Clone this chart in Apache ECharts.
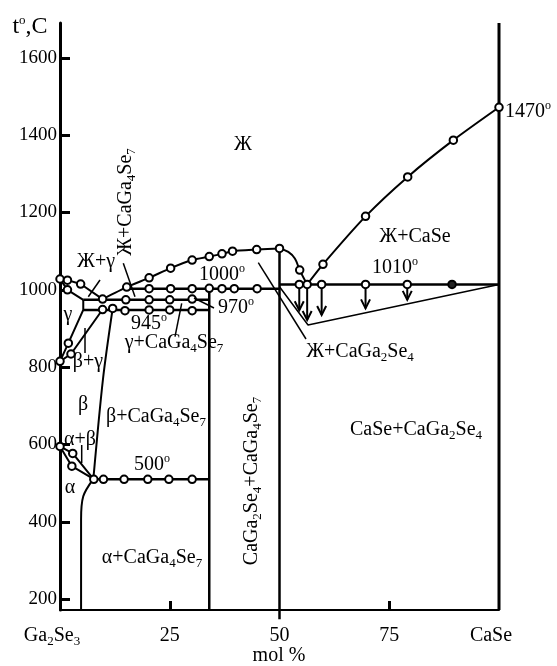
<!DOCTYPE html>
<html><head><meta charset="utf-8">
<script src="https://cdn.jsdelivr.net/npm/echarts@6/dist/echarts.min.js"></script>
<style>html,body{margin:0;padding:0;background:#fff}#c{width:557px;height:666px}</style>
</head><body><div id="c"></div>
<script>
// ---- axis ticks ----
const xTicks = [0, 25, 50, 75, 100];
const xTickLabels = ['Ga2Se3', '25', '50', '75', 'CaSe'];
const yTicks = [200, 400, 600, 800, 1000, 1200, 1400, 1600];

// ---- phase boundary curves (mol % CaSe, °C) ----
const liqCaSe = [[56.3,1014],[59.9,1066],[69.6,1190],[79.2,1292],[89.6,1387],[100,1472]];
const liqCaGa2Se4 = [[50,1107],[52,1098],[53.5,1081],[54.6,1051],[56.3,1014]];
const liqCaGa4Se7 = [[9.7,976],[15.2,1007],[20.3,1031],[25.2,1056],[30.1,1077],[34,1086],[36.9,1093],[39.3,1100],[44.8,1104],[50,1107]];
const liqGamma = [[0,1028],[1.7,1025],[4.7,1015],[9.7,976]];
const solGamma = [[0,1028],[1.7,1000],[5.3,974]];
const solvGamma = [[5.3,974],[5.3,948],[1.9,862],[0,815]];
const betaGamma = [[0,815],[2.5,834],[9.7,949]];
const betaCmp = [[12,952],[9.8,770],[7.6,511]];
const alphaSolv = [[7.6,511],[5.3,466],[4.8,406],[4.8,172]];
const abUpper = [[0,595],[2.9,577],[7.6,511]];
const abLower = [[0,595],[2.7,544],[7.6,511]];
const iso1010 = [[50,1014],[100,1014]];
const iso1000 = [[15.2,1003],[50,1003]];
const iso970 = [[5.3,974],[34,974]];
const iso945 = [[5.3,948],[34,948]];
const iso500 = [[7.6,510],[34,510]];
const lineCaGa4Se7 = [[34,1003],[34,172]];
const lineCaGa2Se4 = [[50,1107],[50,148]];
const lineCaSe = [[100,172],[100,1690]];
const tammann = [[50,1008],[56.5,909],[100,1014]];

// ---- experimental points ----
const ptsLiquidus = [[59.9,1066],[69.6,1190],[79.2,1292],[89.6,1387],[100,1472],[54.6,1051],[50,1107],
  [15.2,1007],[20.3,1031],[25.2,1056],[30.1,1077],[34,1086],[36.9,1093],[39.3,1100],[44.8,1104]];
const ptsGamma = [[0,1028],[1.7,1025],[4.7,1015],[9.7,976],[1.7,1000],[1.9,862],[2.5,834],[0,815]];
const pts1000 = [[20.3,1003],[25.2,1003],[30.1,1003],[34,1004],[36.9,1003],[39.7,1003],[44.9,1003]];
const pts970 = [[15,974],[20.3,974],[25,974],[30.1,976]];
const pts945 = [[9.7,949],[12,952],[14.8,946],[20.3,948],[25,948],[30.1,946]];
const ptsAB = [[0,595],[2.9,577],[2.7,544]];
const pts500 = [[7.7,510],[9.9,510],[14.6,510],[20,510],[24.8,510],[30.1,510]];
const pts1010 = [[54.5,1014],[56.3,1014],[59.6,1014],[69.6,1014],[79.1,1014]];
const ptsSpecial = [[89.3,1014]];
// thermal arrows: composition, start T, tip T
const arrowX = [54.5, 56.3, 59.6, 69.6, 79.1];
const arrowTip = [947, 922, 935, 952, 974];
const arrowTop = 1014;

const FONT = '"Liberation Serif", "Times New Roman", serif';
const RICH = {
  m: {fontSize: 20, fontFamily: FONT, color: '#000', lineHeight: 24},
  s: {fontSize: 13, fontFamily: FONT, color: '#000', lineHeight: 13, verticalAlign: 'bottom'},
  o: {fontSize: 12, fontFamily: FONT, color: '#000', lineHeight: 12, verticalAlign: 'top'},
  p: {width: 16},
  T: {fontSize: 24, fontFamily: FONT, color: '#000', lineHeight: 26},
  O: {fontSize: 13, fontFamily: FONT, color: '#000', lineHeight: 13, verticalAlign: 'top'}
};

function lineSeries(data, width, extra) {
  return Object.assign({type: 'line', data: data, showSymbol: false, symbol: 'none', silent: true,
    lineStyle: {color: '#000', width: width}, animation: false, z: 3}, extra || {});
}
function pointSeries(data, fill) {
  return {type: 'scatter', data: data, symbol: 'circle', symbolSize: 7.5, silent: true, animation: false, z: 5,
    itemStyle: {color: fill || '#fff', borderColor: '#000', borderWidth: 2, opacity: 1}};
}
function txt(x, y, s, rot) {
  return {type: 'text', x: x, y: y, rotation: rot || 0, silent: true, z: 10,
    style: {text: s, rich: RICH, align: 'center', verticalAlign: 'middle', fill: '#000', font: '20px ' + FONT}};
}
function ldr(x1, y1, x2, y2) {
  return {type: 'line', silent: true, z: 10, shape: {x1: x1, y1: y1, x2: x2, y2: y2}, style: {stroke: '#000', lineWidth: 1.5}};
}

const chart = echarts.init(document.getElementById('c'), null, {renderer: 'canvas'});
const option = {
  backgroundColor: '#fff',
  animation: false,
  grid: {left: 60, right: 58, top: 23, bottom: 56, containLabel: false},
  xAxis: {
    type: 'value', min: 0, max: 100, interval: 25,
    axisLine: {show: true, onZero: false, lineStyle: {color: '#000', width: 2}},
    axisTick: {show: true, inside: true, length: 9, lineStyle: {color: '#000', width: 3}, customValues: [25, 75]},
    splitLine: {show: false},
    axisLabel: {
      customValues: xTicks, margin: 14, color: '#000', fontFamily: FONT, fontSize: 20,
      formatter: function (v) {
        const i = xTicks.indexOf(v);
        const t = xTickLabels[i];
        if (t === 'Ga2Se3') return '{m|Ga}{s|2}{m|Se}{s|3}{p|}';
        if (t === 'CaSe') return '{m|CaSe}{p|}';
        return '{m|' + t + '}';
      },
      rich: RICH
    }
  },
  yAxis: {
    type: 'value', min: 172, max: 1690,
    axisLine: {show: true, onZero: false, lineStyle: {color: '#000', width: 3}},
    axisTick: {show: true, inside: true, length: 10, lineStyle: {color: '#000', width: 3}, customValues: yTicks},
    splitLine: {show: false},
    axisLabel: {customValues: yTicks, margin: 3, color: '#000', fontFamily: FONT, fontSize: 19,
      formatter: function (v) { return String(v); }}
  },
  series: [
    lineSeries(liqCaSe, 2, {smooth: 0.25}),
    lineSeries(liqCaGa2Se4, 2, {smooth: 0.4}),
    lineSeries(liqCaGa4Se7, 2, {smooth: 0.2}),
    lineSeries(liqGamma, 2),
    lineSeries(solGamma, 2),
    lineSeries(solvGamma, 2),
    lineSeries(betaGamma, 2),
    lineSeries(betaCmp, 2, {smooth: 0.3}),
    lineSeries(alphaSolv, 2, {smooth: 0.3}),
    lineSeries(abUpper, 2),
    lineSeries(abLower, 2),
    lineSeries(iso1010, 2.5),
    lineSeries(iso1000, 2.5),
    lineSeries(iso970, 2.5),
    lineSeries(iso945, 2.5),
    lineSeries(iso500, 2.5),
    lineSeries(lineCaGa4Se7, 2.5),
    lineSeries(lineCaGa2Se4, 2.5, {clip: false}),
    lineSeries(lineCaSe, 3),
    lineSeries(tammann, 1.5),
    {
      type: 'custom', silent: true, animation: false, z: 4,
      data: arrowX.map(function (x, i) { return [x, arrowTop, arrowTip[i]]; }),
      encode: {x: 0, y: [1, 2]},
      renderItem: function (params, api) {
        const a = api.coord([api.value(0), api.value(1)]);
        const b = api.coord([api.value(0), api.value(2)]);
        return {type: 'group', children: [
          {type: 'line', shape: {x1: a[0], y1: a[1] - 4, x2: b[0], y2: b[1]}, style: {stroke: '#000', lineWidth: 2}},
          {type: 'polyline', shape: {points: [[b[0] - 4.5, b[1] - 9], [b[0], b[1]], [b[0] + 4.5, b[1] - 9]]},
            style: {stroke: '#000', lineWidth: 2, fill: null}}
        ]};
      }
    },
    pointSeries(ptsLiquidus), pointSeries(ptsGamma), pointSeries(pts1000), pointSeries(pts970),
    pointSeries(pts945), pointSeries(ptsAB), pointSeries(pts500), pointSeries(pts1010),
    pointSeries(ptsSpecial, '#222')
  ],
  graphic: [
    txt(30, 27, '{T|t}{O|o}{T|,C}', 0),
    txt(243, 145, '{m|Ж}'),
    txt(415, 237, '{m|Ж+CaSe}'),
    txt(395, 268, '{m|1010}{o|o}'),
    txt(360, 352, '{m|Ж+CaGa}{s|2}{m|Se}{s|4}'),
    txt(222, 275, '{m|1000}{o|o}'),
    txt(236, 308, '{m|970}{o|o}'),
    txt(149, 324, '{m|945}{o|o}'),
    txt(174, 343, '{m|γ+CaGa}{s|4}{m|Se}{s|7}'),
    txt(96, 262, '{m|Ж+γ}'),
    txt(126, 202, '{m|Ж+CaGa}{s|4}{m|Se}{s|7}', Math.PI / 2),
    txt(68, 315, '{m|γ}'),
    txt(88, 362, '{m|β+γ}'),
    txt(83, 405, '{m|β}'),
    txt(156, 417, '{m|β+CaGa}{s|4}{m|Se}{s|7}'),
    txt(80, 440, '{m|α+β}'),
    txt(152, 465, '{m|500}{o|o}'),
    txt(70, 488, '{m|α}'),
    txt(152, 558, '{m|α+CaGa}{s|4}{m|Se}{s|7}'),
    txt(252, 481, '{m|CaGa}{s|2}{m|Se}{s|4}{m|+CaGa}{s|4}{m|Se}{s|7}', Math.PI / 2),
    txt(416, 430, '{m|CaSe+CaGa}{s|2}{m|Se}{s|4}'),
    txt(528, 112, '{m|1470}{o|o}'),
    txt(279, 656, '{m|mol %}'),
    ldr(100, 280, 88.3, 296.7),
    ldr(123.3, 263.3, 135, 296.7),
    ldr(181.7, 303.3, 175, 336.7),
    ldr(194, 298, 214, 308),
    ldr(85, 328, 85, 353),
    ldr(81.7, 445, 81.7, 463),
    ldr(258.3, 262.7, 306, 339)
  ]
};
chart.setOption(option);
</script>
</body></html>
